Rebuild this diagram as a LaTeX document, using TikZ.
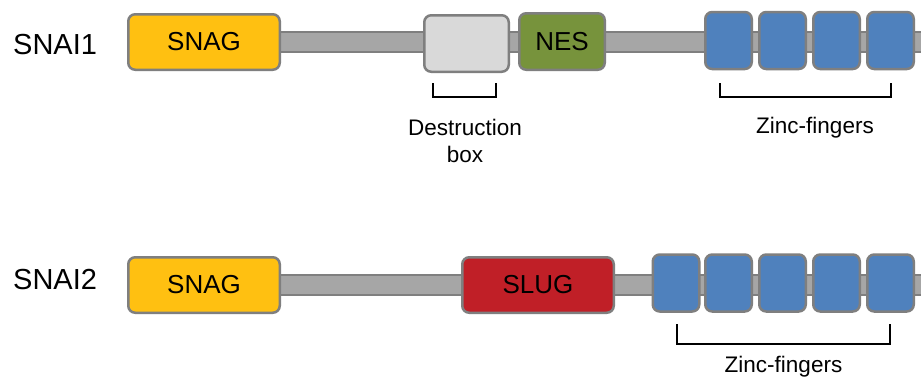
\documentclass[tikz,border=0pt]{standalone}
\usepackage{fontspec}
\setmainfont{Liberation Sans}
\definecolor{bord}{HTML}{7F7F7F}
\definecolor{barfill}{HTML}{A6A6A6}
\definecolor{snagc}{HTML}{FFC011}
\definecolor{destc}{HTML}{D9D9D9}
\definecolor{nesc}{HTML}{77933C}
\definecolor{znc}{HTML}{4F81BD}
\definecolor{slugc}{HTML}{C01F27}
\tikzset{
  dom/.style={draw=bord, line width=2.5pt, rounded corners=7pt, inner sep=0pt,
     font=\fontsize{26}{28}\selectfont, text=black},
  zf/.style={dom, fill=znc, minimum width=46.5pt, minimum height=57pt},
  bar/.style={draw=bord, fill=barfill, line width=2pt},
  brk/.style={draw=black, line width=1.1pt},
  lbl/.style={font=\fontsize{29}{31}\selectfont, anchor=west, inner sep=0pt},
  ann/.style={font=\fontsize{22.5}{27}\selectfont, align=center, inner sep=0pt}
}
\begin{document}
\begin{tikzpicture}[x=1pt,y=-1pt]
\clip (0,0) rectangle (921,376);
\fill[white] (0,0) rectangle (921,376);
% row 1
\draw[bar] (270,31.5) rectangle (930,51.5);
\node[lbl] (l1) at (13,45) {SNAI1};
\node[dom, fill=snagc, minimum width=151.5pt, minimum height=55.5pt] (snag1) at (204,42) {SNAG};
\node[dom, fill=destc, minimum width=84.5pt, minimum height=56.5pt] (dbox) at (466.5,43.5) {};
\node[dom, fill=nesc, minimum width=85.5pt, minimum height=56.5pt] (nes) at (562,41.5) {NES};
\node[zf] (z11) at (728.5,40.5) {};
\node[zf] (z12) at (782.5,40.5) {};
\node[zf] (z13) at (836.5,40.5) {};
\node[zf] (z14) at (890.5,40.5) {};
\draw[brk] (433,83) -- (433,97) -- (496,97) -- (496,83);
\node[ann] (dtxt) at (465,141) {Destruction\\box};
\draw[brk] (720,83) -- (720,97) -- (891,97) -- (891,83);
\node[ann] (zt1) at (815,128) {Zinc-fingers};
% row 2
\draw[bar] (270,275) rectangle (930,295);
\node[lbl] (l2) at (13,280) {SNAI2};
\node[dom, fill=snagc, minimum width=151.5pt, minimum height=55.5pt] (snag2) at (204,285) {SNAG};
\node[dom, fill=slugc, minimum width=151.5pt, minimum height=55.5pt] (slug) at (538,285) {SLUG};
\node[zf] (z21) at (676,283) {};
\node[zf] (z22) at (728.5,283) {};
\node[zf] (z23) at (782.5,283) {};
\node[zf] (z24) at (836.5,283) {};
\node[zf] (z25) at (890.5,283) {};
\draw[brk] (677,324) -- (677,344) -- (890,344) -- (890,324);
\node[ann] (zt2) at (783.5,367) {Zinc-fingers};
\end{tikzpicture}
\end{document}
